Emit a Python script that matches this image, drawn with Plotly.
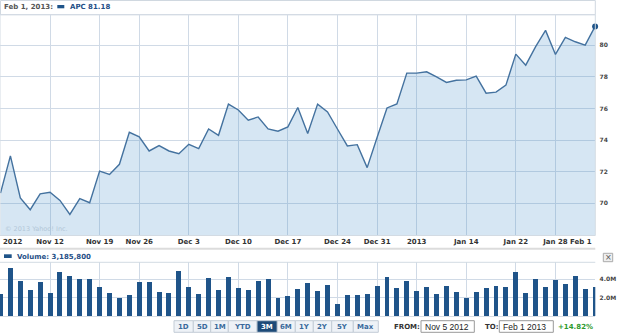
import plotly.graph_objects as go

# ---------------- data ----------------
dates = [
    "2012-11-05", "2012-11-06", "2012-11-07", "2012-11-08", "2012-11-09",
    "2012-11-12", "2012-11-13", "2012-11-14", "2012-11-15", "2012-11-16",
    "2012-11-19", "2012-11-20", "2012-11-21", "2012-11-23",
    "2012-11-26", "2012-11-27", "2012-11-28", "2012-11-29", "2012-11-30",
    "2012-12-03", "2012-12-04", "2012-12-05", "2012-12-06", "2012-12-07",
    "2012-12-10", "2012-12-11", "2012-12-12", "2012-12-13", "2012-12-14",
    "2012-12-17", "2012-12-18", "2012-12-19", "2012-12-20", "2012-12-21",
    "2012-12-24", "2012-12-26", "2012-12-27", "2012-12-28",
    "2012-12-31", "2013-01-02", "2013-01-03", "2013-01-04",
    "2013-01-07", "2013-01-08", "2013-01-09", "2013-01-10", "2013-01-11",
    "2013-01-14", "2013-01-15", "2013-01-16", "2013-01-17", "2013-01-18",
    "2013-01-22", "2013-01-23", "2013-01-24", "2013-01-25",
    "2013-01-28", "2013-01-29", "2013-01-30", "2013-01-31", "2013-02-01",
]

price = [
    70.65, 73.00, 70.34, 69.60, 70.60,
    70.70, 70.19, 69.30, 70.30, 70.04,
    72.04, 71.83, 72.47, 74.49,
    74.20, 73.31, 73.65, 73.31, 73.14,
    73.73, 73.46, 74.70, 74.30, 76.27,
    75.90, 75.25, 75.46, 74.70, 74.56,
    74.83, 76.06, 74.41, 76.27, 75.78,
    74.70, 73.63, 73.71, 72.26,
    74.16, 76.03, 76.28, 78.23,
    78.23, 78.31, 77.99, 77.64, 77.78,
    77.80, 78.04, 76.96, 77.03, 77.47,
    79.43, 78.73, 79.90, 80.93,
    79.41, 80.49, 80.21, 80.00, 81.18,
]

volume_m = [
    2.37, 5.17, 3.79, 2.77, 3.64,
    2.51, 4.73, 4.34, 3.97, 4.04,
    3.09, 2.44, 1.89, 2.26,
    3.64, 3.72, 2.59, 2.44, 4.92,
    3.09, 2.37, 4.12, 2.84, 4.23,
    3.03, 2.84, 3.79, 4.04, 1.89,
    2.19, 2.92, 3.55, 2.75, 3.35,
    1.31, 2.22, 2.22, 2.40,
    3.28, 4.23, 3.03, 3.79,
    2.66, 3.17, 2.40, 3.28, 2.59,
    1.97, 2.55, 3.03, 3.28, 3.17,
    4.73, 2.44, 3.97, 3.09,
    3.90, 3.50, 4.30, 2.95, 3.1858,
]
volume = [v * 1e6 for v in volume_m]

tick_dates = ["2012-11-12", "2012-11-19", "2012-11-26", "2012-12-03", "2012-12-10",
              "2012-12-17", "2012-12-24", "2012-12-31", "2013-01-07", "2013-01-14",
              "2013-01-22", "2013-01-28"]
tick_labels = ["Nov 12", "Nov 19", "Nov 26", "Dec 3", "Dec 10",
               "Dec 17", "Dec 24", "Dec 31", "2013", "Jan 14",
               "Jan 22", "Jan 28"]
edge_labels = ["2012", "Feb 1"]

price_ticks = [70, 72, 74, 76, 78, 80]
vol_ticks = [2e6, 4e6]
vol_tick_labels = ["2.0M", "4.0M"]

buttons = ["1D", "5D", "1M", "YTD", "3M", "6M", "1Y", "2Y", "5Y", "Max"]
selected_button = "3M"

# ---------------- helpers (pixel -> paper) ----------------
W, H = 625, 335
def px(x):
    return x / W
def py(y):
    return 1 - y / H

BOLD = "DejaVu Sans"
BLUE_TXT = "#1f4f86"
GRID = "#d0dae6"

fig = go.Figure()

fig.add_trace(go.Scatter(
    x=dates, y=price, mode="lines",
    line=dict(color="#44729f", width=1.4),
    fill="tozeroy", fillcolor="rgba(70,140,200,0.22)",
    xaxis="x", yaxis="y", hoverinfo="skip", showlegend=False,
))
fig.add_trace(go.Scatter(
    x=[dates[-1]], y=[price[-1]], mode="markers",
    marker=dict(color="#1f5489", size=6),
    xaxis="x", yaxis="y", cliponaxis=False, showlegend=False,
))
fig.add_trace(go.Bar(
    x=dates, y=volume, marker=dict(color="#1f5489", line=dict(width=0)),
    width=0.5, xaxis="x2", yaxis="y2", showlegend=False,
))

x_range = [-0.05, 60.02]
x_dom = [0, px(595.3)]

fig.update_layout(
    width=W, height=H, margin=dict(l=0, r=0, t=0, b=0),
    paper_bgcolor="white", plot_bgcolor="white",
    bargap=0,
    xaxis=dict(
        type="category", range=x_range, domain=x_dom, anchor="y",
        tickvals=tick_dates, ticktext=tick_labels,
        showgrid=True, gridcolor=GRID, gridwidth=1, zeroline=False,
        ticks="", 
        tickfont=dict(family=BOLD, size=7, color="#333333", weight="bold"),
        showline=False,
    ),
    xaxis2=dict(
        type="category", range=x_range, domain=x_dom, anchor="y2",
        matches="x", tickvals=tick_dates, showticklabels=False,
        showgrid=True, gridcolor=GRID, gridwidth=1, zeroline=False,
        showline=True, linecolor="#d8dde3", linewidth=1,
    ),
    yaxis=dict(
        domain=[py(235.5), py(14.7)], range=[67.97, 81.92], side="right",
        anchor="x", tickvals=price_ticks, ticktext=[str(v) for v in price_ticks],
        showgrid=True, gridcolor=GRID, gridwidth=1, zeroline=False,
        ticks="outside", ticklen=2, tickcolor="rgba(0,0,0,0)",
        tickfont=dict(family=BOLD, size=6, color="#444444", weight="bold"),
    ),
    yaxis2=dict(
        domain=[py(316), py(262.3)], range=[0, 5.86e6], side="right",
        anchor="x2", tickvals=vol_ticks, ticktext=vol_tick_labels,
        showgrid=True, gridcolor=GRID, gridwidth=1, zeroline=False,
        ticks="outside", ticklen=2, tickcolor="rgba(0,0,0,0)",
        tickfont=dict(family=BOLD, size=6, color="#444444", weight="bold"),
    ),
)

shapes = []
annotations = []

# header box
shapes.append(dict(type="rect", xref="paper", yref="paper",
                   x0=px(0.5), x1=px(595.3), y0=py(14.7), y1=py(0.5),
                   line=dict(color="#d0d8e0", width=1), fillcolor="white", layer="below"))
# price plot border
shapes.append(dict(type="rect", xref="paper", yref="paper",
                   x0=px(0), x1=px(595.3), y0=py(235.5), y1=py(14.7),
                   line=dict(color="#d3dbe3", width=1), layer="above"))
# header swatch
shapes.append(dict(type="rect", xref="paper", yref="paper",
                   x0=px(57.3), x1=px(64.3), y0=py(8.3), y1=py(5),
                   line=dict(width=0), fillcolor="#1f5489"))
annotations.append(dict(text="Feb 1, 2013:", x=px(2), y=py(7.2), xref="paper", yref="paper",
                        xanchor="left", yanchor="middle", showarrow=False,
                        font=dict(family=BOLD, size=7, color="#555555", weight="bold")))
annotations.append(dict(text=f"APC {price[-1]:.2f}", x=px(67.5), y=py(7.2), xref="paper", yref="paper",
                        xanchor="left", yanchor="middle", showarrow=False,
                        font=dict(family=BOLD, size=7, color=BLUE_TXT, weight="bold")))
# copyright
annotations.append(dict(text="© 2013 Yahoo! Inc.", x=px(3), y=py(229), xref="paper", yref="paper",
                        xanchor="left", yanchor="middle", showarrow=False,
                        font=dict(family="DejaVu Sans", size=6.5, color="#b3c6d8")))
# edge x labels
annotations.append(dict(text=edge_labels[0], x=px(0.5), y=py(241.8), xref="paper", yref="paper",
                        xanchor="left", yanchor="middle", showarrow=False,
                        font=dict(family=BOLD, size=7, color="#333333", weight="bold")))
annotations.append(dict(text=edge_labels[1], x=px(594), y=py(241.8), xref="paper", yref="paper",
                        xanchor="right", yanchor="middle", showarrow=False,
                        font=dict(family=BOLD, size=7, color="#333333", weight="bold")))
# separator
shapes.append(dict(type="line", xref="paper", yref="paper",
                   x0=px(0), x1=px(595.3), y0=py(248.8), y1=py(248.8),
                   line=dict(color="#dcdcdc", width=2)))
# volume header
shapes.append(dict(type="rect", xref="paper", yref="paper",
                   x0=px(4), x1=px(11.7), y0=py(258), y1=py(254.3),
                   line=dict(width=0), fillcolor="#1f5489"))
annotations.append(dict(text=f"Volume: {volume[-1]:,.0f}", x=px(14.5), y=py(256.7),
                        xref="paper", yref="paper", xanchor="left", yanchor="middle",
                        showarrow=False,
                        font=dict(family=BOLD, size=7, color=BLUE_TXT, weight="bold")))
# volume top border
shapes.append(dict(type="line", xref="paper", yref="paper",
                   x0=px(0), x1=px(595.3), y0=py(262.3), y1=py(262.3),
                   line=dict(color="#d3dbe3", width=1)))
# close button
shapes.append(dict(type="rect", xref="paper", yref="paper",
                   x0=px(603.3), x1=px(612.7), y0=py(261.7), y1=py(253.3),
                   line=dict(color="#aaaaaa", width=1), fillcolor="#eeeeee"))
annotations.append(dict(text="×", x=px(608), y=py(257.5), xref="paper", yref="paper",
                        xanchor="center", yanchor="middle", showarrow=False,
                        font=dict(family="DejaVu Sans", size=8, color="#555555")))

# toolbar buttons
edges = [174, 193.3, 210.7, 228.3, 257, 277.3, 295.3, 313.3, 331.7, 353.3, 378.3]
for i, b in enumerate(buttons):
    sel = (b == selected_button)
    shapes.append(dict(type="rect", xref="paper", yref="paper",
                       x0=px(edges[i]), x1=px(edges[i + 1]), y0=py(332.3), y1=py(320.7),
                       line=dict(color="#c3ccd6", width=1),
                       fillcolor="#1d4a78" if sel else "#eef2f7"))
    annotations.append(dict(text=b, x=px((edges[i] + edges[i + 1]) / 2), y=py(326.5),
                            xref="paper", yref="paper", xanchor="center", yanchor="middle",
                            showarrow=False,
                            font=dict(family=BOLD, size=7, color="white" if sel else "#3b6a9c",
                                      weight="bold")))

annotations.append(dict(text="FROM:", x=px(391.7), y=py(326.5), xref="paper", yref="paper",
                        xanchor="left", yanchor="middle", showarrow=False,
                        font=dict(family=BOLD, size=7, color="#333333", weight="bold")))
shapes.append(dict(type="rect", xref="paper", yref="paper",
                   x0=px(421), x1=px(474.3), y0=py(332.3), y1=py(320.7),
                   line=dict(color="#999999", width=1), fillcolor="white"))
annotations.append(dict(text="Nov 5 2012", x=px(422.5), y=py(326.5), xref="paper", yref="paper",
                        xanchor="left", yanchor="middle", showarrow=False,
                        font=dict(family="Liberation Sans", size=8.5, color="#222222")))
annotations.append(dict(text="TO:", x=px(483.5), y=py(326.5), xref="paper", yref="paper",
                        xanchor="left", yanchor="middle", showarrow=False,
                        font=dict(family=BOLD, size=7, color="#333333", weight="bold")))
shapes.append(dict(type="rect", xref="paper", yref="paper",
                   x0=px(499.3), x1=px(553.3), y0=py(332.3), y1=py(320.7),
                   line=dict(color="#999999", width=1), fillcolor="white"))
annotations.append(dict(text="Feb 1 2013", x=px(501), y=py(326.5), xref="paper", yref="paper",
                        xanchor="left", yanchor="middle", showarrow=False,
                        font=dict(family="Liberation Sans", size=8.5, color="#222222")))
annotations.append(dict(text="+14.82%", x=px(594.5), y=py(326.5), xref="paper", yref="paper",
                        xanchor="right", yanchor="middle", showarrow=False,
                        font=dict(family=BOLD, size=7, color="#2e9a2e", weight="bold")))

fig.update_layout(shapes=shapes, annotations=annotations)

fig.write_html("out.html")
